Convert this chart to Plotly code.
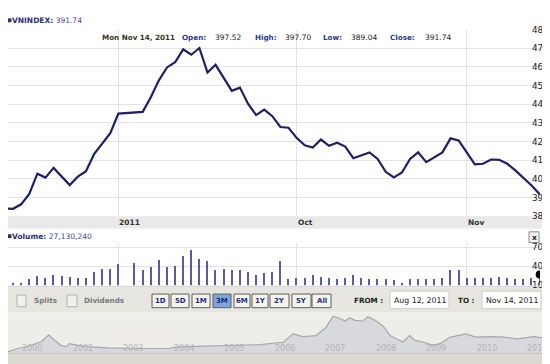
import plotly.graph_objects as go

# ---------------- data ----------------
dates = [
    "2011-08-12",
    "2011-08-15", "2011-08-16", "2011-08-17", "2011-08-18", "2011-08-19",
    "2011-08-22", "2011-08-23", "2011-08-24", "2011-08-25", "2011-08-26",
    "2011-08-29", "2011-08-30", "2011-08-31", "2011-09-01", "2011-09-02",
    "2011-09-05", "2011-09-06", "2011-09-07", "2011-09-08", "2011-09-09",
    "2011-09-12", "2011-09-13", "2011-09-14", "2011-09-15", "2011-09-16",
    "2011-09-19", "2011-09-20", "2011-09-21", "2011-09-22", "2011-09-23",
    "2011-09-26", "2011-09-27", "2011-09-28", "2011-09-29", "2011-09-30",
    "2011-10-03", "2011-10-04", "2011-10-05", "2011-10-06", "2011-10-07",
    "2011-10-10", "2011-10-11", "2011-10-12", "2011-10-13", "2011-10-14",
    "2011-10-17", "2011-10-18", "2011-10-19", "2011-10-20", "2011-10-21",
    "2011-10-24", "2011-10-25", "2011-10-26", "2011-10-27", "2011-10-28",
    "2011-10-31", "2011-11-01", "2011-11-02", "2011-11-03", "2011-11-04",
    "2011-11-07", "2011-11-08", "2011-11-09", "2011-11-10", "2011-11-11",
    "2011-11-14",
]
closes = [
    384.2,
    384.0, 386.4, 392.0, 402.8, 400.7,
    405.9, 401.2, 396.7, 401.3, 404.1,
    413.3, 419.2, 424.5, 435.0, None,
    435.5, 435.9, 443.7, 452.8, 459.7,
    462.5, 469.4, 466.5, 470.1, 457.0,
    461.1, 454.1, 447.2, 448.9, 440.3,
    434.2, 437.1, 433.6, 427.8, 427.4,
    422.0, 418.0, 416.8, 421.1, 417.7,
    419.4, 417.3, 411.1, 412.8, 414.2,
    410.7, 403.8, 400.8, 403.4, 410.7,
    414.2, 409.0, 411.6, 414.2, 421.7,
    420.6, 414.2, 407.8, 408.1, 410.4,
    410.2, 408.1, 404.6, 400.7, 396.5,
    391.74,
]
volumes_m = [
    16.0,
    14.2, 14.2, 21.2, 25.4, 21.8,
    26.5, 25.4, 24.3, 21.8, 22.8,
    31.5, 37.2, 37.2, 44.3, None,
    45.8, 34.6, 39.2, 51.1, 39.2,
    40.8, 57.7, 66.5, 52.6, 48.5,
    35.7, 36.6, 35.7, 34.6, 31.5,
    26.5, 29.5, 31.5, 49.0, 21.2,
    22.8, 22.8, 27.0, 24.3, 22.8,
    20.3, 22.8, 26.5, 22.8, 20.3,
    20.3, 20.3, 18.8, 15.1, 20.3,
    20.3, 20.3, 21.2, 22.8, 34.6,
    34.6, 22.8, 21.8, 22.8, 21.8,
    24.3, 22.8, 20.3, 20.3, 22.8,
    27.13,
]
month_ticks = ["2011-09-01", "2011-10-03", "2011-11-01"]
month_labels = ["2011", "Oct", "Nov"]
vol_ticks = [10, 40, 70]
vol_tick_labels = ["10M", "40M", "70M"]

hist_years = [2000.73, 2000.93, 2001.13, 2001.39, 2001.54, 2001.62, 2001.78, 2001.88,
              2001.95, 2002.12, 2002.38, 2002.71, 2003.37, 2003.90, 2004.10, 2004.69,
              2005.35, 2005.74, 2006.02, 2006.18, 2006.38, 2006.57, 2006.83, 2007.03,
              2007.17, 2007.27, 2007.41, 2007.50, 2007.60, 2007.76, 2007.86, 2008.00,
              2008.16, 2008.30, 2008.42, 2008.55, 2008.69, 2008.79, 2008.95, 2009.15,
              2009.29, 2009.49, 2009.64, 2009.80, 2010.00, 2010.28, 2010.55, 2010.81,
              2011.15, 2011.41, 2011.55]
hist_values = [37, 140, 211, 357, 574, 450, 242, 192,
               295, 242, 192, 161, 140, 140, 192, 223,
               242, 264, 316, 335, 605, 521, 552, 812,
               1172, 1122, 1017, 1122, 1039, 1017, 1153, 1039,
               862, 552, 450, 347, 552, 397, 347, 242,
               295, 502, 552, 605, 502, 521, 502, 450,
               521, 450, 378]
hist_label_years = [2001, 2002, 2003, 2004, 2005, 2006, 2007, 2008, 2009, 2010, 2011]
hist_labels = ["2000", "2002", "2003", "2004", "2005", "2006", "2007", "2008", "2009", "2010", "2011"]

range_buttons = ["1D", "5D", "1M", "3M", "6M", "1Y", "2Y", "5Y", "All"]
selected_button = "3M"

# ---------------- layout helpers ----------------
W, H = 550, 364
FONT = "Verdana, DejaVu Sans, sans-serif"
NAVY = "#27317d"


def fx(p):
    return p / W


def fy(p):
    return 1 - p / H


fig = go.Figure()

fig.add_trace(go.Scatter(
    x=dates, y=closes, mode="lines", connectgaps=True,
    line=dict(color="#1c1f6c", width=2.2), xaxis="x", yaxis="y", hoverinfo="skip"))
fig.add_trace(go.Bar(
    x=dates, y=volumes_m, marker=dict(color="#5a5aa6", line_width=0),
    width=0.16 * 86400000, xaxis="x2", yaxis="y2", hoverinfo="skip"))
fig.add_trace(go.Scatter(
    x=[dates[-1]], y=[volumes_m[-1]], mode="markers",
    marker=dict(color="#000000", size=8), xaxis="x2", yaxis="y2", hoverinfo="skip"))
fig.add_trace(go.Scatter(
    x=hist_years, y=hist_values, mode="lines", fill="tozeroy",
    fillcolor="#d7d9dd", line=dict(color="#a7a7a7", width=1.2),
    xaxis="x3", yaxis="y3", hoverinfo="skip"))

GRID = "#e2e2e2"
rb = [dict(bounds=["sat", "mon"])]
xrange = ["2011-08-12 09:00", "2011-11-14 01:00"]

fig.update_layout(
    width=W, height=H,
    margin=dict(l=0, r=0, t=0, b=0),
    paper_bgcolor="#ffffff", plot_bgcolor="rgba(0,0,0,0)",
    showlegend=False, bargap=0,
    font=dict(family=FONT, size=8, color="#222222"),
    xaxis=dict(type="date", domain=[0, fx(532)], range=xrange, rangebreaks=rb,
               tickvals=month_ticks, showticklabels=False, ticks="",
               showgrid=True, gridcolor=GRID, gridwidth=1, zeroline=False,
               showline=False, anchor="y"),
    yaxis=dict(domain=[fy(209), fy(17)], range=[380, 480], dtick=10, side="right",
               anchor="x", showgrid=True, gridcolor=GRID, gridwidth=1, ticks="",
               ticklen=0, ticklabelstandoff=-9,
               zeroline=False, showline=False,
               tickfont=dict(family=FONT, size=8.8, color="#222222")),
    xaxis2=dict(type="date", domain=[0, fx(532)], range=xrange, rangebreaks=rb,
                matches="x", tickvals=month_ticks, showticklabels=False, ticks="",
                showgrid=True, gridcolor=GRID, zeroline=False, showline=False,
                anchor="y2"),
    yaxis2=dict(domain=[fy(280), fy(236)], range=[10, 77.7], tickvals=vol_ticks,
                ticktext=vol_tick_labels, side="right", anchor="x2", showgrid=True,
                gridcolor=GRID, ticks="", ticklen=0, ticklabelstandoff=-9,
                zeroline=False, showline=False,
                tickfont=dict(family=FONT, size=8.8, color="#222222")),
    xaxis3=dict(domain=[0, 1], range=[2000.733, 2011.624], visible=False, anchor="y3"),
    yaxis3=dict(domain=[fy(349.5), fy(308)], range=[0, 1286], visible=False, anchor="x3"),
)

shapes = []


def rect(x0, y0, x1, y1, fill, line=None, lw=1, layer="above"):
    shapes.append(dict(type="rect", xref="paper", yref="paper",
                       x0=fx(x0), x1=fx(x1), y0=fy(y1), y1=fy(y0),
                       fillcolor=fill, layer=layer,
                       line=dict(color=line or fill, width=lw if line else 0)))


def hline(y, x0, x1, color, w=1, layer="above"):
    shapes.append(dict(type="line", xref="paper", yref="paper",
                       x0=fx(x0), x1=fx(x1), y0=fy(y), y1=fy(y),
                       line=dict(color=color, width=w), layer=layer))


def text(x, y, s, size=7.5, color="#222222", anchor="left", xref="paper"):
    fig.add_annotation(x=fx(x) if xref == "paper" else x, y=fy(y), xref=xref, yref="paper",
                       text=s, showarrow=False, xanchor=anchor, yanchor="middle",
                       borderpad=0, font=dict(family=FONT, size=size, color=color))


# header
rect(0, 5.5, 3.5, 9.5, NAVY)
text(3, 8, "<b>VNINDEX:</b> <span style='color:#3a4699'>391.74</span>", size=7.5, color=NAVY)

# info line
text(93, 25, "<b>Mon Nov 14, 2011</b>", size=7.2, color="#3b3524")
info = [(173, "Open:", 206, "397.52"), (246, "High:", 276, "397.70"),
        (314, "Low:", 342, "389.04"), (381, "Close:", 416, "391.74")]
for lx, lab, vx, val in info:
    text(lx, 25, "<b>" + lab + "</b>", size=7.2, color="#2d3a8c")
    text(vx, 25, val, size=7.5, color="#222222")

# date band
rect(0, 209, 550, 221.5, "#e9e9e9", layer="below")
hline(222, 0, 550, "#f3f3f3")
for t, lab in zip(month_ticks, month_labels):
    text(t, 215.5, "<b>" + lab + "</b>", size=7.5, color="#333333", xref="x")

# volume header
rect(0, 227.5, 3.5, 231.5, NAVY)
text(3, 230, "<b>Volume:</b> <span style='color:#3a4699'>27,130,240</span>", size=7.5, color=NAVY)
rect(521, 225, 531, 236, "#f2f2f2", line="#8a8a8a")
text(526, 230.5, "<b>x</b>", size=7.5, color="#222222", anchor="center")

# bottom control panel
rect(0, 281, 550, 308, "#e7e5e0", layer="below")
rect(0, 308, 550, 350, "#eeedea", layer="below")
rect(0, 350, 550, 364, "#dcd9d2", layer="below")
hline(281, 0, 550, "#d6d4cf")
hline(350, 0, 550, "#c6c3bc")

# checkboxes
rect(9, 290, 18, 302, "#f1f0ec", line="#b3b1ac")
text(25, 296, "<b>Splits</b>", size=7.2, color="#777777")
rect(59, 290, 69, 302, "#f1f0ec", line="#b3b1ac")
text(75, 296, "<b>Dividends</b>", size=7.2, color="#777777")

# range buttons
btn_x = [(144, 161), (163, 181), (184, 202), (205, 223), (226, 242),
         (244, 260), (262, 281), (284, 303), (304, 323)]
for (bx0, bx1), lab in zip(btn_x, range_buttons):
    sel = lab == selected_button
    rect(bx0, 289, bx1, 303, "#7ea5de" if sel else "#f6f3ea", line="#5d5d5d", lw=1)
    text((bx0 + bx1) / 2, 296.2, "<b>" + lab + "</b>", size=7,
         color="#13297a" if sel else "#1c2c8c", anchor="center")

# from / to
text(345, 296, "<b>FROM :</b>", size=7.2, color="#222222")
rect(382, 286, 441, 304, "#ffffff", line="#cfcdc8")
text(411.5, 295.5, "Aug 12, 2011", size=7.8, color="#222222", anchor="center")
text(449, 296, "<b>TO :</b>", size=7.2, color="#222222")
rect(474, 286, 533, 304, "#ffffff", line="#cfcdc8")
text(503.5, 295.5, "Nov 14, 2011", size=7.8, color="#222222", anchor="center")

# navigator handle
rect(546, 306, 550, 350, "#a9c4e8")
rect(545, 326, 550, 333, "#8b8b8b")

# navigator year labels
for yr, lab in zip(hist_label_years, hist_labels):
    text(yr, 345, lab, size=8, color="#b4b4b4", xref="x3")

fig.update_layout(shapes=shapes)
fig.write_html("out.html")
